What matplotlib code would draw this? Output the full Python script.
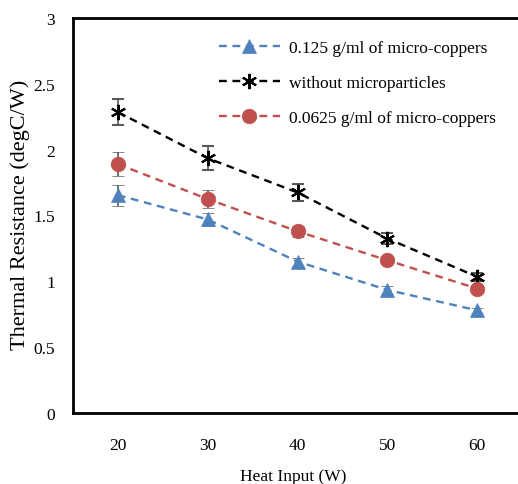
import matplotlib
matplotlib.use("Agg")
import matplotlib.pyplot as plt
from matplotlib.lines import Line2D

heat = [20, 30, 40, 50, 60]
tick_labels = ["20", "30", "40", "50", "60"]

blue_vals = [1.655, 1.47, 1.15, 0.935, 0.78]
blue_err = [0.08, 0.05, 0.03, 0.03, 0.02]
black_vals = [2.285, 1.935, 1.675, 1.325, 1.035]
black_err = [0.10, 0.09, 0.065, 0.04, 0.03]
red_vals = [1.89, 1.625, 1.38, 1.16, 0.945]
red_err = [0.09, 0.07, 0.04, 0.03, 0.02]

labels = ["0.125 g/ml of micro-coppers", "without microparticles",
          "0.0625 g/ml of micro-coppers"]

plt.rcParams['font.family'] = ['Liberation Serif', 'DejaVu Serif']

fig = plt.figure(figsize=(5.18, 4.85), dpi=100)
ax = fig.add_axes([73/518, 71/485, 449/518, 395/485])

dash = (0, (3.3, 2.4))
series = [
    (blue_vals, blue_err, '#4f81bd', '^', 9.5, labels[0]),
    (black_vals, black_err, 'black', (6, 2, 0), 11, labels[1]),
    (red_vals, red_err, '#c0504d', 'o', 10.5, labels[2]),
]
handles = []
for vals, err, col, mk, ms, lab in series:
    mew = 1.5 if mk == (6, 2, 0) else 0.5
    ax.errorbar(heat, vals, yerr=err, color=col, linestyle=dash, linewidth=1.7,
                marker=mk, markersize=ms, markeredgewidth=mew,
                markeredgecolor=col, ecolor='#595959', elinewidth=1.2,
                capsize=4, capthick=1.2, zorder=3)
    handles.append(Line2D([], [], color=col, linestyle=dash, linewidth=1.7,
                          marker=mk, markersize=ms, markeredgewidth=mew,
                          markeredgecolor=col, label=lab))

ax.set_xlim(15, 65)
ax.set_ylim(0, 3)
ax.set_xticks(heat)
ax.set_xticklabels(tick_labels)
ax.set_yticks([0, 0.5, 1, 1.5, 2, 2.5, 3])
ax.set_yticklabels(["0", "0.5", "1", "1.5", "2", "2.5", "3"])
ax.tick_params(length=0, labelsize=12.5)
ax.tick_params(axis='x', pad=17)
ax.tick_params(axis='y', pad=13)
for s in ['left', 'bottom', 'top']:
    ax.spines[s].set_linewidth(2)
ax.spines['right'].set_visible(False)

ax.set_xlabel("Heat Input (W)", fontsize=12.5, va='center')
ax.xaxis.set_label_coords(0.49, -0.159)
ax.set_ylabel("Thermal Resistance (degC/W)", fontsize=16, va='center')
ax.yaxis.set_label_coords(-0.118, 0.504)

ax.legend(handles=handles, loc='upper left', bbox_to_anchor=(0.29, 0.985),
          frameon=False, fontsize=12.5, handlelength=3.5, labelspacing=1.1,
          handletextpad=0.55)

fig.savefig("out.png", dpi=100)
